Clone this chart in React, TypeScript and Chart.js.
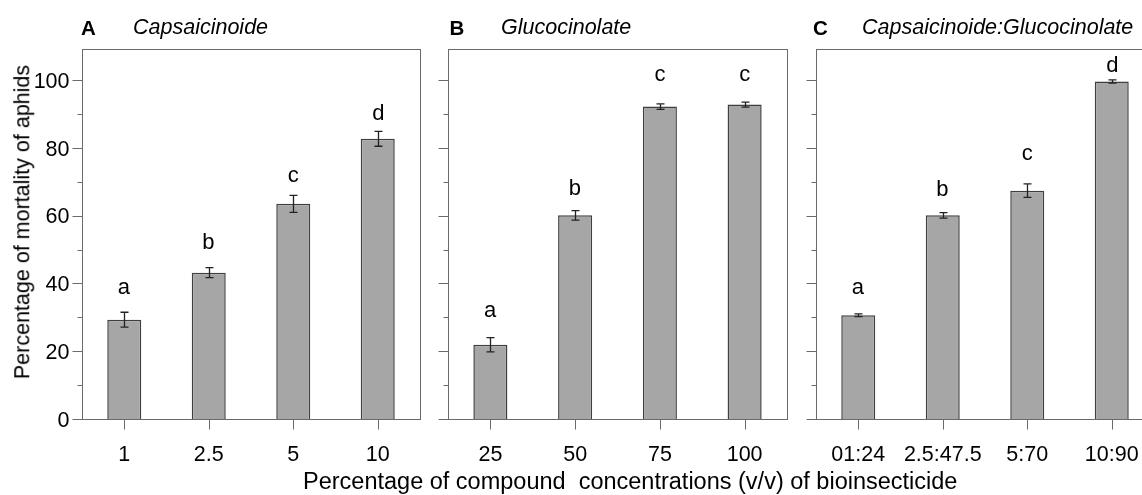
import React, { useEffect, useRef } from "react";
import { Chart, registerables } from "chart.js";
Chart.register(...registerables);

// ---- data ----
const yTickValues = [0, 10, 20, 30, 40, 50, 60, 70, 80, 90, 100];
const yTickLabels = [0, 20, 40, 60, 80, 100];
const yMax = 109.2;

const catsA = ["1", "2.5", "5", "10"];
const valsA = [29.3, 43.2, 63.5, 82.7];
const errA = [2.2, 1.5, 2.5, 2.2];
const lettersA = ["a", "b", "c", "d"];
const letterPosA = [38.7, 52.5, 71.6, 90.6];

const catsB = ["25", "50", "75", "100"];
const valsB = [21.9, 60.1, 92.2, 92.8];
const errB = [2.1, 1.4, 0.8, 0.75];
const lettersB = ["a", "b", "c", "c"];
const letterPosB = [32.0, 68.5, 101.5, 101.5];

const catsC = ["01:24", "2.5:47.5", "5:70", "10:90"];
const valsC = [30.6, 60.1, 67.4, 99.6];
const errC = [0.4, 0.8, 2.0, 0.5];
const lettersC = ["a", "b", "c", "d"];
const letterPosC = [38.7, 68.3, 78.1, 104.7];

const FONT = "'Liberation Sans', Arial, sans-serif";
const AXIS = "#6a6a6a";

type PanelProps = {
  cats: string[];
  vals: number[];
  errs: number[];
  letters: string[];
  letterPos: number[];
  showY: boolean;
  left: number;
  width: number;
  padL: number;
  padR: number;
};

function Panel(p: PanelProps) {
  const ref = useRef<HTMLCanvasElement | null>(null);
  useEffect(() => {
    const canvas = ref.current!;
    const decor = {
      id: "decor",
      afterDatasetsDraw(chart: any) {
        const { ctx, chartArea: ca, scales } = chart;
        const y = scales.y;
        const meta = chart.getDatasetMeta(0);
        ctx.save();
        // error bars
        ctx.strokeStyle = "#222";
        ctx.lineWidth = 1.3;
        meta.data.forEach((bar: any, i: number) => {
          const cx = Math.round(bar.x) + 0.5;
          const yt = y.getPixelForValue(p.vals[i] + p.errs[i]);
          const yb = y.getPixelForValue(p.vals[i] - p.errs[i]);
          ctx.beginPath();
          ctx.moveTo(cx, yt);
          ctx.lineTo(cx, yb);
          ctx.moveTo(cx - 4, yt);
          ctx.lineTo(cx + 4, yt);
          ctx.moveTo(cx - 4, yb);
          ctx.lineTo(cx + 4, yb);
          ctx.stroke();
        });
        // box
        const L = Math.round(ca.left) + 0.5;
        const R = Math.round(ca.right) + 0.5;
        const T = Math.round(ca.top) + 0.5;
        const B = Math.round(y.getPixelForValue(0)) + 0.5;
        ctx.strokeStyle = AXIS;
        ctx.lineWidth = 1;
        ctx.strokeRect(L, T, R - L, B - T);
        // y ticks
        ctx.beginPath();
        yTickValues.forEach((v) => {
          const py = Math.round(y.getPixelForValue(v)) + 0.5;
          const len = v % 20 === 0 ? 10 : 5;
          ctx.moveTo(L - len, py);
          ctx.lineTo(L, py);
        });
        // x ticks
        meta.data.forEach((bar: any) => {
          const px = Math.round(bar.x) + 0.5;
          ctx.moveTo(px, B);
          ctx.lineTo(px, B + 10);
        });
        ctx.stroke();
        ctx.fillStyle = "#000";
        // y labels
        if (p.showY) {
          const fs = 21.5;
          ctx.font = `${fs}px ${FONT}`;
          ctx.textAlign = "right";
          ctx.textBaseline = "alphabetic";
          yTickLabels.forEach((v) => {
            const py = y.getPixelForValue(v);
            ctx.fillText(String(v), L - 13, py + 0.358 * fs);
          });
        }
        // x labels
        const xf = 21.5;
        ctx.font = `${xf}px ${FONT}`;
        ctx.textAlign = "center";
        ctx.textBaseline = "alphabetic";
        meta.data.forEach((bar: any, i: number) => {
          ctx.fillText(p.cats[i], bar.x, B + 34 + 0.358 * xf);
        });
        // significance letters, ink-centred on their position
        ctx.font = `22px ${FONT}`;
        ctx.textAlign = "left";
        meta.data.forEach((bar: any, i: number) => {
          const m = ctx.measureText(p.letters[i]);
          const l = m.actualBoundingBoxLeft, r = m.actualBoundingBoxRight;
          const a = m.actualBoundingBoxAscent, d = m.actualBoundingBoxDescent;
          const cy = y.getPixelForValue(p.letterPos[i]);
          ctx.fillText(p.letters[i], bar.x - (r - l) / 2, cy + (a - d) / 2);
        });
        ctx.restore();
      },
    };
    const chart = new Chart(canvas, {
      type: "bar",
      data: {
        labels: p.cats,
        datasets: [
          {
            data: p.vals,
            backgroundColor: "#a6a6a6",
            borderColor: "#3f3f3f",
            borderWidth: 1.5,
            categoryPercentage: 1,
            barPercentage: 0.402,
          },
        ],
      },
      options: {
        animation: false,
        responsive: false,
        devicePixelRatio: 1,
        layout: { padding: { left: p.padL, right: p.padR, top: 49, bottom: 76 } },
        plugins: { legend: { display: false }, tooltip: { enabled: false } },
        scales: {
          x: { type: "category", display: false, offset: true },
          y: { type: "linear", display: false, min: 0, max: yMax },
        },
      },
      plugins: [decor],
    });
    return () => chart.destroy();
  }, []);
  return (
    <canvas
      ref={ref}
      width={p.width}
      height={495}
      style={{ position: "absolute", left: p.left, top: 0, width: p.width, height: 495 }}
    />
  );
}

function Txt(props: {
  s: string;
  left: number;
  baseline: number;
  fs: number;
  bold?: boolean;
  italic?: boolean;
}) {
  const { s, left, baseline, fs, bold, italic } = props;
  return (
    <div
      style={{
        position: "absolute",
        left,
        top: baseline - 0.8465 * fs,
        fontSize: fs,
        lineHeight: `${fs}px`,
        fontFamily: FONT,
        fontWeight: bold ? "bold" : "normal",
        fontStyle: italic ? "italic" : "normal",
        whiteSpace: "pre",
        color: "#000",
      }}
    >
      {s}
    </div>
  );
}

export default function App() {
  return (
    <div
      style={{
        position: "absolute",
        left: 0,
        top: 0,
        width: 1142,
        height: 495,
        overflow: "hidden",
        background: "#fff",
      }}
    >
      <Panel cats={catsA} vals={valsA} errs={errA} letters={lettersA} letterPos={letterPosA} showY={true} left={0} width={430} padL={82} padR={10} />
      <Panel cats={catsB} vals={valsB} errs={errB} letters={lettersB} letterPos={letterPosB} showY={false} left={430} width={362} padL={18} padR={5} />
      <Panel cats={catsC} vals={valsC} errs={errC} letters={lettersC} letterPos={letterPosC} showY={false} left={792} width={380} padL={24} padR={18} />

      <Txt s="A" left={81} baseline={35} fs={20.5} bold />
      <Txt s="Capsaicinoide" left={133} baseline={35.5} fs={21.5} italic />
      <Txt s="B" left={449.5} baseline={35} fs={20.5} bold />
      <Txt s="Glucocinolate" left={501} baseline={35.5} fs={21.5} italic />
      <Txt s="C" left={813} baseline={35} fs={20.5} bold />
      <Txt s="Capsaicinoide:Glucocinolate" left={862} baseline={35.5} fs={21.5} italic />

      <Txt s="Percentage of compound  concentrations (v/v) of bioinsecticide" left={303} baseline={490} fs={23.5} />

      <div
        style={{
          position: "absolute",
          left: 23,
          top: 222,
          transform: "translate(-50%, -50%) rotate(-90deg)",
          fontSize: 21.5,
          lineHeight: "21.5px",
          fontFamily: FONT,
          whiteSpace: "pre",
          color: "#000",
        }}
      >
        Percentage of mortality of aphids
      </div>
    </div>
  );
}
